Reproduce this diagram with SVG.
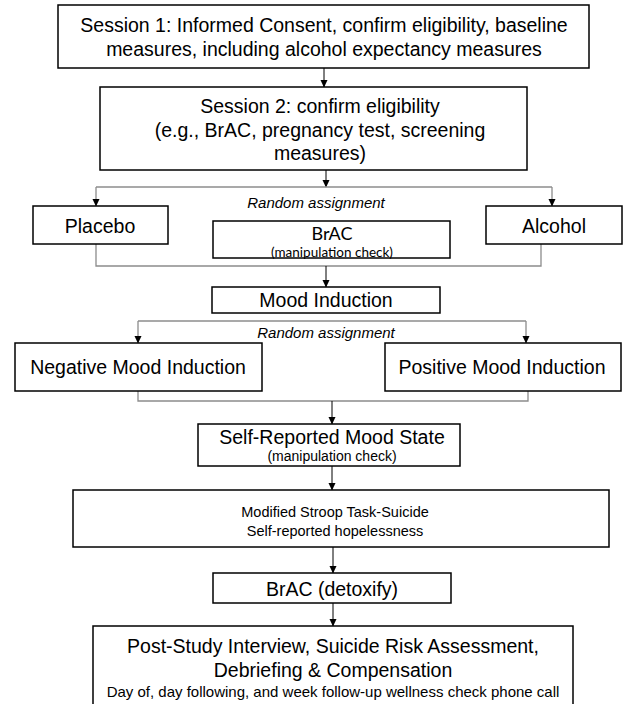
<svg xmlns="http://www.w3.org/2000/svg" width="625" height="704" viewBox="0 0 625 704">
<style>
.box{fill:#fff;stroke:#000;stroke-width:1.5}
.t{font-family:"Liberation Sans",Arial,sans-serif;fill:#000;text-anchor:middle}
.big{font-size:19.5px}
.mid{font-size:14.5px}
.sm{font-size:14px}
.it{font-style:italic;font-size:15px}
.cal{font-family:Lato,"Liberation Sans",sans-serif;fill:#000;text-anchor:middle}
.arr{fill:none;stroke:#000;stroke-width:1}
.gr{fill:none;stroke:#8c8c8c;stroke-width:1.3}
</style>
<defs>
<marker id="ah" markerWidth="8" markerHeight="8" refX="7" refY="4" orient="auto" markerUnits="userSpaceOnUse">
<path d="M0,0.5 L7.5,4 L0,7.5 Z" fill="#000"/>
</marker>
</defs>
<g id="connectors">
<path class="arr" d="M324,68 V87" marker-end="url(#ah)"/>
<path class="arr" d="M326,170 V187" marker-end="url(#ah)"/>
<path class="gr" d="M96,187 H552"/>
<path class="gr" d="M96,187 V206" marker-end="url(#ah)"/>
<path class="gr" d="M552,187 V206" marker-end="url(#ah)"/>
<path class="gr" d="M96,244 V266 H541 V244"/>
<path class="arr" d="M326,266 V287" marker-end="url(#ah)"/>
<path class="gr" d="M138,321 H526"/>
<path class="gr" d="M138,321 V343" marker-end="url(#ah)"/>
<path class="gr" d="M526,321 V343" marker-end="url(#ah)"/>
<path class="gr" d="M138,391 V401 H528 V391"/>
<path class="arr" d="M332,401 V424" marker-end="url(#ah)"/>
<path class="arr" d="M332,466 V490" marker-end="url(#ah)"/>
<path class="arr" d="M333,547 V573" marker-end="url(#ah)"/>
<path class="arr" d="M333,603 V626" marker-end="url(#ah)"/>
<text class="t it" x="316" y="208">Random assignment</text>
<text class="t it" x="326" y="338">Random assignment</text>
</g>
<g id="session1">
<rect class="box" x="58" y="5" width="531" height="63"/>
<text class="t big" x="324" y="32">Session 1: Informed Consent, confirm eligibility, baseline</text>
<text class="t big" x="324" y="56">measures, including alcohol expectancy measures</text>
</g>
<g id="session2">
<rect class="box" x="100" y="87" width="427" height="83"/>
<text class="t big" x="320" y="113">Session 2: confirm eligibility</text>
<text class="t big" x="320" y="137">(e.g., BrAC, pregnancy test, screening</text>
<text class="t big" x="320" y="160">measures)</text>
</g>
<g id="placebo">
<rect class="box" x="33" y="206" width="135" height="38"/>
<text class="t big" x="100" y="233">Placebo</text>
</g>
<g id="brac">
<rect class="box" x="213" y="221" width="237" height="37"/>
<text class="cal" x="332" y="240" font-size="18">BrAC</text>
<text class="cal" x="332" y="257" font-size="13.5">(manipulation check)</text>
</g>
<g id="alcohol">
<rect class="box" x="486" y="206" width="136" height="38"/>
<text class="t big" x="554" y="233">Alcohol</text>
</g>
<g id="mood">
<rect class="box" x="212" y="287" width="228" height="26"/>
<text class="t big" x="326" y="307">Mood Induction</text>
</g>
<g id="negative">
<rect class="box" x="15" y="343" width="247" height="48"/>
<text class="t big" x="138" y="374">Negative Mood Induction</text>
</g>
<g id="positive">
<rect class="box" x="385" y="343" width="236" height="48"/>
<text class="t big" x="502" y="374">Positive Mood Induction</text>
</g>
<g id="selfreport">
<rect class="box" x="198" y="424" width="262" height="42"/>
<text class="t big" x="332" y="444">Self-Reported Mood State</text>
<text class="t sm" x="332" y="461">(manipulation check)</text>
</g>
<g id="stroop">
<rect class="box" x="73" y="490" width="536" height="57"/>
<text class="t mid" x="335" y="517">Modified Stroop Task-Suicide</text>
<text class="t mid" x="335" y="536">Self-reported hopelessness</text>
</g>
<g id="detox">
<rect class="box" x="213" y="573" width="238" height="30"/>
<text class="t big" x="332" y="596">BrAC (detoxify)</text>
</g>
<g id="final">
<rect class="box" x="93" y="626" width="480" height="92"/>
<text class="t big" x="333" y="653">Post-Study Interview, Suicide Risk Assessment,</text>
<text class="t big" x="333" y="677">Debriefing &amp; Compensation</text>
<text class="t" x="333" y="697" font-size="15">Day of, day following, and week follow-up wellness check phone call</text>
</g>
</svg>
